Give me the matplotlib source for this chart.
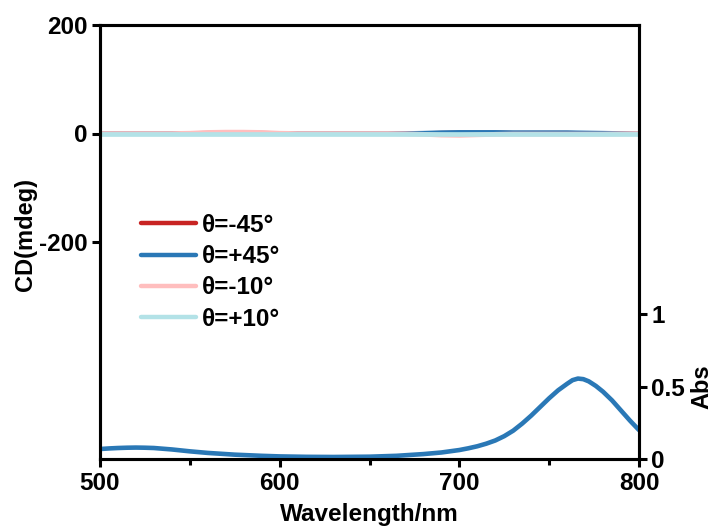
import matplotlib
matplotlib.use("Agg")
from matplotlib import pyplot as plt
import numpy as np

plt.rcParams['font.family'] = ['Liberation Sans', 'DejaVu Sans']
plt.rcParams['font.weight'] = 'bold'

# CD spectra (mdeg), 10 nm step
cd_wl = [500, 510, 520, 530, 540, 550, 560, 570, 580, 590, 600, 610, 620, 630, 640, 650,
         660, 670, 680, 690, 700, 710, 720, 730, 740, 750, 760, 770, 780, 790, 800]
cd_m45 = [0, 0, 0, 0, 0, 0, 0.5, 1, 1, 0.5, 0, 0, 0, 0, 0, 0,
          0, 0, 0, 0.5, 1, 1, 1, 0.5, 0.5, 0.5, 0.5, 0, 0, 0, 0]
cd_p45 = [0, 0, 0, 0, 0, 0, 0, 0, 0, 0, 0, 0, 0, 0, 0, 0,
          0, 0, 0.5, 1.5, 2, 2, 2, 1.5, 1.5, 1.5, 1.5, 1, 0.5, 0, 0]
cd_m10 = [0, 0, 0, 0, 0, 0.5, 2, 2.5, 2.5, 2, 0.5, 0, 0, 0, 0, 0,
          0, -0.5, -1.5, -3, -3.5, -2.5, -1.5, -1, -1, -1, -1, -1, -1, -0.5, 0]
cd_p10 = [0] * len(cd_wl)

# absorbance spectrum
abs_wl = [500, 505, 510, 515, 520, 525, 530, 540, 550, 560, 575, 590, 600, 615, 630, 650,
          665, 680, 690, 700, 705, 710, 715, 720, 725, 730, 735, 740, 745, 750, 755,
          760, 763, 766, 769, 772, 776, 780, 785, 790, 795, 800]
abs_val = [0.069, 0.073, 0.076, 0.078, 0.079, 0.078, 0.076, 0.066, 0.053, 0.042, 0.03,
           0.022, 0.018, 0.015, 0.014, 0.016, 0.022, 0.034, 0.045, 0.062, 0.074, 0.088,
           0.106, 0.128, 0.158, 0.196, 0.245, 0.3, 0.36, 0.42, 0.475, 0.52, 0.545, 0.556,
           0.552, 0.537, 0.505, 0.465, 0.405, 0.335, 0.265, 0.2]

labels = ['θ=-45°', 'θ=+45°', 'θ=-10°', 'θ=+10°']
colors = ['#C82423', '#2A78B6', '#FFBEBE', '#B3E2E7']

fig = plt.figure(figsize=(7.13, 5.27), dpi=100)
ax = fig.add_axes([100 / 713, 1 - 459 / 527, 539 / 713, 434 / 527])

for y, lab, c in zip([cd_m45, cd_p45, cd_m10, cd_p10], labels, colors):
    ax.plot(cd_wl, y, color=c, lw=3.4, label=lab, solid_capstyle='round')

ax.set_xlim(500, 800)
ax.set_ylim(-600, 200)
ax.set_xticks([500, 600, 700, 800])
ax.set_xticks([550, 650, 750], minor=True)
ax.set_yticks([-200, 0, 200])
ax.set_yticklabels(['-200', '0', '200'])
ax.tick_params(axis='both', which='major', direction='out', length=6, width=2.2,
               labelsize=17.5, pad=3)
ax.tick_params(axis='x', which='minor', direction='out', length=4, width=2.2)
for sp in ax.spines.values():
    sp.set_linewidth(2.2)

ax2 = ax.twinx()
ax2.plot(abs_wl, abs_val, color='#2A78B6', lw=3.3, solid_capstyle='round')
ax2.set_ylim(0, 3)
ax2.set_yticks([0, 0.5, 1])
ax2.set_yticklabels(['0', '0.5', '1'])
ax2.tick_params(axis='y', direction='out', length=6, width=2.2, labelsize=17.5, pad=3)
for sp in ax2.spines.values():
    sp.set_linewidth(2.2)

leg = ax.legend(loc='upper left', bbox_to_anchor=(0.076, 0.565), frameon=False,
                fontsize=17.5, handlelength=2.26, handletextpad=0.25, labelspacing=0.34,
                borderaxespad=0, borderpad=0)
for h in leg.get_lines():
    h.set_linewidth(3.2)

fig.text(26 / 713, 1 - 234 / 527, 'CD(mdeg)', rotation=90, ha='center', va='center',
         fontsize=17, fontweight='bold')
fig.text(702 / 713, 1 - 387 / 527, 'Abs', rotation=90, ha='center', va='center',
         fontsize=17, fontweight='bold')
fig.text(369.5 / 713, 1 - 515 / 527, 'Wavelength/nm', ha='center', va='center',
         fontsize=17.5, fontweight='bold')

fig.savefig('out.png', dpi=100)
